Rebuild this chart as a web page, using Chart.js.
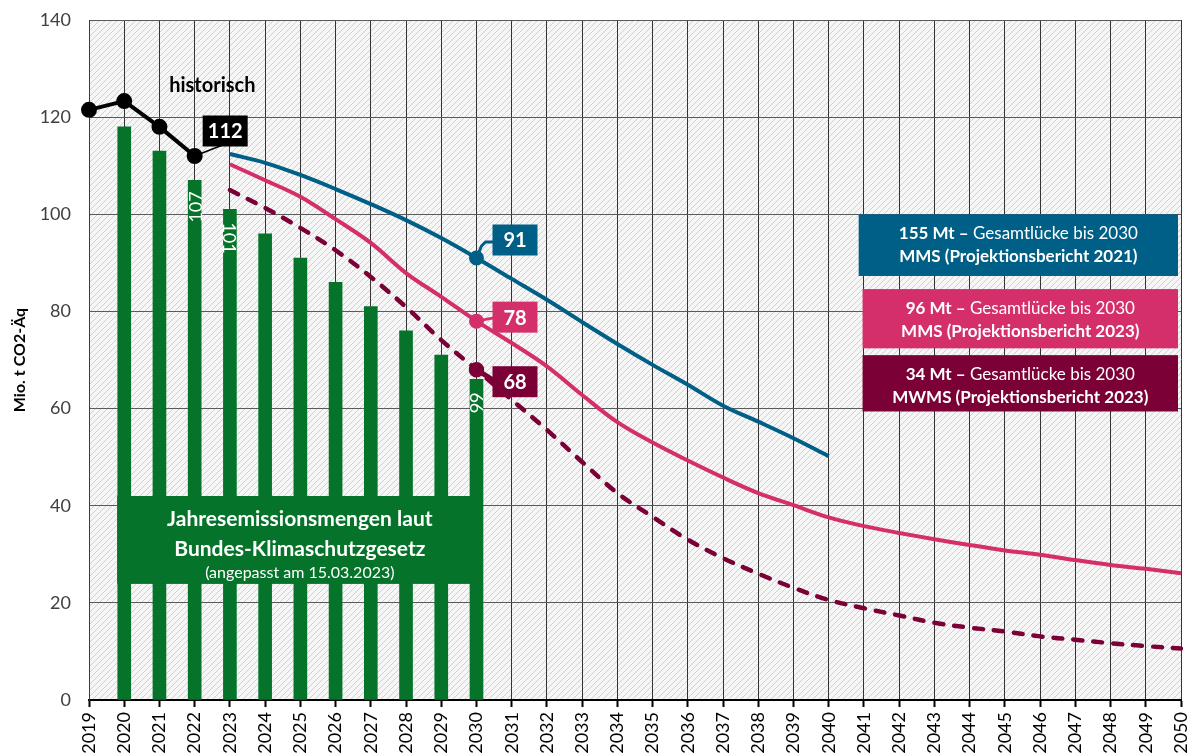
<!DOCTYPE html>
<html>
<head>
<meta charset="utf-8">
<script src="https://cdn.jsdelivr.net/npm/chart.js@4.4.1/dist/chart.umd.min.js"></script>
<style>
  html, body { margin: 0; padding: 0; background: #ffffff; }
  #wrap { width: 1193px; height: 756px; position: relative; }
</style>
</head>
<body>
<div id="wrap"><canvas id="c" width="1193" height="756"></canvas></div>
<script>
// Year categories on the x axis
const years = ['2019','2020','2021','2022','2023','2024','2025','2026','2027','2028','2029','2030',
  '2031','2032','2033','2034','2035','2036','2037','2038','2039','2040',
  '2041','2042','2043','2044','2045','2046','2047','2048','2049','2050'];

// y axis ticks
const yTicks = [0, 20, 40, 60, 80, 100, 120, 140];

// Historical emissions (from 2019)
const historicalStart = 2019;
const historical = [121.5, 123.3, 118, 112];

// Annual emission budgets, Bundes-Klimaschutzgesetz (from 2020)
const budgetStart = 2020;
const budget = [118, 113, 107, 101, 96, 91, 86, 81, 76, 71, 66];

// MMS, Projektionsbericht 2021 (2023 - 2040)
const mms2021Start = 2023;
const mms2021 = [112.4, 110.6, 108.1, 105.2, 102.1, 98.8, 95.1, 91,
  86.7, 82.4, 77.8, 73.3, 69, 64.9, 60.6, 57.3, 53.9, 50.2];

// MMS, Projektionsbericht 2023 (2023 - 2050)
const mms2023Start = 2023;
const mms2023 = [110.3, 107, 103.6, 99, 94.1, 87.9, 83, 78,
  73.5, 68.7, 62.8, 57.2, 53, 49.3, 45.8, 42.6, 40.1, 37.6,
  35.8, 34.4, 33.1, 31.9, 30.8, 29.9, 28.8, 27.8, 27, 26.1];

// MWMS, Projektionsbericht 2023 (2023 - 2050)
const mwms2023Start = 2023;
const mwms2023 = [105, 101.3, 97.2, 92.6, 87.1, 80.9, 74.1, 68,
  61.8, 55.6, 49, 42.6, 37.7, 33, 29.2, 26, 23.1, 20.6,
  18.9, 17.4, 15.9, 14.9, 14.1, 13.1, 12.4, 11.7, 11.1, 10.6];

// Budget bars that carry a value label, with the reading direction of the text
const budgetLabelYears = [2022, 2023, 2030];
const budgetLabelDir = ['up', 'down', 'down'];

// Gap boxes
const gapTexts = [
  { bold: '155 Mt \u2013', rest: ' Gesamtl\u00fccke bis 2030', line2: 'MMS (Projektionsbericht 2021)' },
  { bold: '96 Mt \u2013', rest: ' Gesamtl\u00fccke bis 2030', line2: 'MMS (Projektionsbericht 2023)' },
  { bold: '34 Mt \u2013', rest: ' Gesamtl\u00fccke bis 2030', line2: 'MWMS (Projektionsbericht 2023)' }
];

const C_GREEN = '#05742a';
const C_BLUE = '#005f86';
const C_PINK = '#d52f6b';
const C_WINE = '#7b0036';
const FONT = 'Lato, "Open Sans", "DejaVu Sans", sans-serif';

// Place a series that begins at a given year onto the full year axis
function align(start, values) {
  const out = years.map(() => null);
  const off = years.indexOf(String(start));
  values.forEach((v, i) => { out[off + i] = v; });
  return out;
}
function idxOf(year) { return years.indexOf(String(year)); }

// Diagonal hatching used as plot background
function makeHatch() {
  const n = 6;
  const t = document.createElement('canvas');
  t.width = n; t.height = n;
  const g = t.getContext('2d');
  g.fillStyle = '#f6f6f6';
  g.fillRect(0, 0, n, n);
  g.strokeStyle = '#d0d0d0';
  g.lineWidth = 1;
  g.beginPath();
  g.moveTo(-1, n + 1); g.lineTo(n + 1, -1);
  g.moveTo(-1, 1); g.lineTo(1, -1);
  g.moveTo(n - 1, n + 1); g.lineTo(n + 1, n - 1);
  g.stroke();
  return t;
}

const guide = { historischY: 126.5 };

const overlay = {
  id: 'overlay',
  beforeDraw(chart) {
    const { ctx, chartArea: a } = chart;
    ctx.save();
    ctx.fillStyle = ctx.createPattern(makeHatch(), 'repeat');
    ctx.fillRect(a.left, a.top, a.right - a.left, a.bottom - a.top);
    ctx.restore();
  },
  afterDatasetsDraw(chart) {
    const { ctx } = chart;
    const xs = chart.scales.x, ys = chart.scales.y;
    const step = xs.getPixelForValue(1) - xs.getPixelForValue(0);
    const px = (yr) => xs.getPixelForValue(idxOf(Math.floor(yr))) + (yr - Math.floor(yr)) * step;
    const py = (v) => ys.getPixelForValue(v);
    ctx.save();

    // value labels inside the budget bars
    const barMeta = chart.getDatasetMeta(0);
    ctx.fillStyle = '#ffffff';
    ctx.font = '18px ' + FONT;
    ctx.textBaseline = 'middle';
    budgetLabelYears.forEach((yr, k) => {
      const i = idxOf(yr);
      const bar = barMeta.data[i];
      const val = budget[yr - budgetStart];
      ctx.save();
      if (budgetLabelDir[k] === 'up') {
        ctx.translate(bar.x + 1, bar.y + 11);
        ctx.rotate(-Math.PI / 2);
        ctx.textAlign = 'right';
      } else {
        ctx.translate(bar.x, bar.y + 13);
        ctx.rotate(Math.PI / 2);
        ctx.textAlign = 'left';
      }
      ctx.fillText(String(val), 0, 1);
      ctx.restore();
    });

    // budget caption box
    const gx1 = px(2019.8), gx2 = px(2030.17), gy1 = py(42), gy2 = py(23.9);
    ctx.fillStyle = C_GREEN;
    ctx.fillRect(gx1, gy1, gx2 - gx1, gy2 - gy1);
    ctx.fillStyle = '#ffffff';
    ctx.textAlign = 'center';
    ctx.textBaseline = 'middle';
    const gc = (gx1 + gx2) / 2;
    ctx.font = 'bold 21px ' + FONT;
    ctx.fillText('Jahresemissionsmengen laut', gc, gy1 + 23);
    ctx.fillText('Bundes-Klimaschutzgesetz', gc, gy1 + 53);
    ctx.font = '16px ' + FONT;
    ctx.fillText('(angepasst am 15.03.2023)', gc, gy1 + 77);

    // "historisch" caption
    ctx.fillStyle = '#000000';
    ctx.font = 'bold 20px ' + FONT;
    ctx.fillText('historisch', px(2022.5), py(guide.historischY));

    // value boxes at the series points
    function valueBox(value, year, color, dx, dy, leader) {
      const x0 = px(year), y0 = py(value);
      const w = 45, h = 31;
      const bx = x0 + dx, by = y0 + dy - h / 2;
      ctx.strokeStyle = color;
      ctx.lineWidth = leader.width;
      ctx.lineJoin = 'round';
      ctx.lineCap = 'round';
      ctx.beginPath();
      ctx.moveTo(x0, y0);
      leader.path.forEach(p => ctx.lineTo(x0 + p[0], y0 + p[1]));
      ctx.stroke();
      ctx.fillStyle = color;
      ctx.fillRect(bx, by, w, h);
      ctx.fillStyle = '#ffffff';
      ctx.font = 'bold 20px ' + FONT;
      ctx.textAlign = 'center';
      ctx.textBaseline = 'middle';
      ctx.fillText(String(value), bx + w / 2, by + h / 2 + 1);
    }
    const hist2022 = historical[2022 - historicalStart];
    valueBox(hist2022, 2022, '#000000', 8, -25, { width: 1.5, path: [[28, -11]] });
    valueBox(mms2021[2030 - mms2021Start], 2030, C_BLUE, 16, -18, { width: 3, path: [[5, -12], [9, -16], [16, -16]] });
    valueBox(mms2023[2030 - mms2023Start], 2030, C_PINK, 16, -4, { width: 3, path: [[16, -3]] });
    valueBox(mwms2023[2030 - mwms2023Start], 2030, C_WINE, 16, 12, { width: 5, path: [[16, 10]] });

    // gap boxes
    const boxes = [
      { c: C_BLUE, x1: 2040.85, y1: 100, y2: 87.3 },
      { c: C_PINK, x1: 2040.96, y1: 84.6, y2: 72.4 },
      { c: C_WINE, x1: 2040.96, y1: 71, y2: 59.4 }
    ];
    boxes.forEach((b, i) => {
      const x1 = px(b.x1), x2 = xs.getPixelForValue(idxOf(2050)) - 3;
      const y1 = py(b.y1), y2 = py(b.y2);
      ctx.fillStyle = b.c;
      ctx.fillRect(x1, y1, x2 - x1, y2 - y1);
      const cx = (x1 + x2) / 2;
      const t = gapTexts[i];
      ctx.fillStyle = '#ffffff';
      ctx.textBaseline = 'middle';
      ctx.font = 'bold 17px ' + FONT;
      const wb = ctx.measureText(t.bold).width;
      ctx.font = '17px ' + FONT;
      const wr = ctx.measureText(t.rest).width;
      const sx = cx - (wb + wr) / 2;
      ctx.textAlign = 'left';
      ctx.font = 'bold 17px ' + FONT;
      ctx.fillText(t.bold, sx, y1 + 19);
      ctx.font = '17px ' + FONT;
      ctx.fillText(t.rest, sx + wb, y1 + 19);
      ctx.textAlign = 'center';
      ctx.font = 'bold 17px ' + FONT;
      ctx.fillText(t.line2, cx, y1 + 42);
    });

    ctx.restore();
  }
};

const i2030 = idxOf(2030);
const lineBase = {
  type: 'line',
  spanGaps: false,
  borderWidth: 4,
  tension: 0.35,
  pointHoverRadius: 0,
  order: 1
};

new Chart(document.getElementById('c'), {
  type: 'bar',
  data: {
    labels: years,
    datasets: [
      {
        label: 'Jahresemissionsmengen KSG',
        data: align(budgetStart, budget),
        backgroundColor: C_GREEN,
        barThickness: 13,
        order: 10
      },
      Object.assign({}, lineBase, {
        label: 'MWMS 2023',
        data: align(mwms2023Start, mwms2023),
        borderColor: C_WINE,
        backgroundColor: C_WINE,
        borderWidth: 4.5,
        borderDash: [9, 11],
        borderCapStyle: 'round',
        pointRadius: (c) => c.dataIndex === i2030 ? 5.5 : 0
      }),
      Object.assign({}, lineBase, {
        label: 'MMS 2023',
        data: align(mms2023Start, mms2023),
        borderColor: C_PINK,
        backgroundColor: C_PINK,
        pointRadius: (c) => c.dataIndex === i2030 ? 5.5 : 0
      }),
      Object.assign({}, lineBase, {
        label: 'MMS 2021',
        data: align(mms2021Start, mms2021),
        borderColor: C_BLUE,
        backgroundColor: C_BLUE,
        pointRadius: (c) => c.dataIndex === i2030 ? 5.5 : 0
      }),
      Object.assign({}, lineBase, {
        label: 'historisch',
        data: align(historicalStart, historical),
        borderColor: '#000000',
        backgroundColor: '#000000',
        tension: 0,
        pointRadius: 6,
        borderJoinStyle: 'round'
      })
    ]
  },
  options: {
    responsive: false,
    animation: false,
    devicePixelRatio: 1,
    layout: { padding: { top: 20, right: 12, left: 0, bottom: 0 } },
    plugins: {
      legend: { display: false },
      tooltip: { enabled: false }
    },
    scales: {
      x: {
        offset: false,
        grid: {
          offset: false,
          color: '#333333',
          lineWidth: 1,
          drawTicks: true,
          tickLength: 7,
          tickColor: '#000000',
          tickWidth: 2
        },
        border: { color: '#000000', width: 2 },
        ticks: {
          color: '#000000',
          font: { family: FONT, size: 18 },
          maxRotation: 90,
          minRotation: 90,
          autoSkip: false,
          padding: 5
        },
        afterFit: (s) => { s.height = 56; s.paddingLeft = 0; s.paddingRight = 0; }
      },
      y: {
        min: 0,
        max: 140,
        afterBuildTicks: (s) => { s.ticks = yTicks.map(v => ({ value: v })); },
        grid: { color: '#5a5a5a', lineWidth: 1, drawTicks: false },
        border: { color: '#3c3c3c', width: 1 },
        ticks: {
          color: '#404040',
          font: { family: FONT, size: 18 },
          padding: 18
        },
        title: {
          display: true,
          text: 'Mio. t CO2-\u00c4q',
          color: '#000000',
          font: { family: FONT, size: 16, weight: 'bold' },
          padding: { top: 10, bottom: 0 }
        },
        afterFit: (s) => { s.width = 89; s.paddingTop = 0; s.paddingBottom = 0; }
      }
    }
  },
  plugins: [overlay]
});
</script>
</body>
</html>
